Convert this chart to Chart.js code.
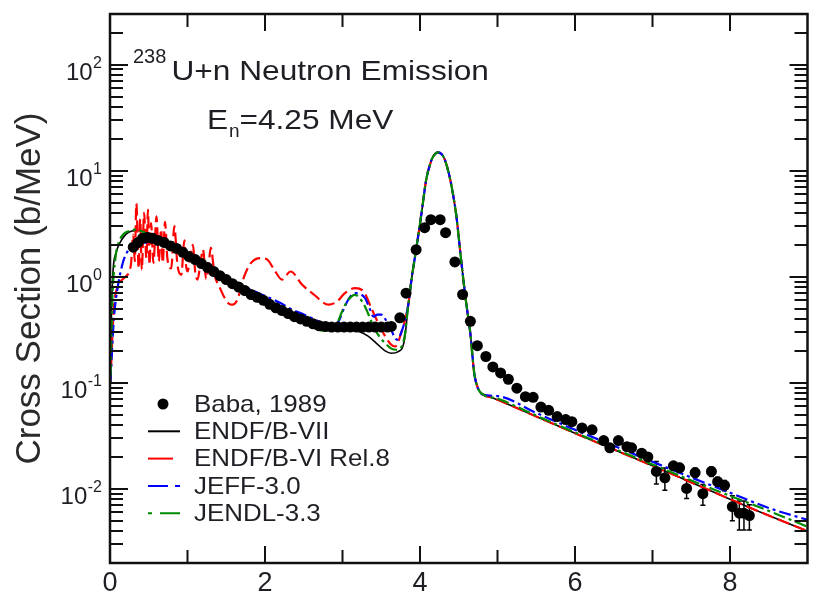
<!DOCTYPE html>
<html><head><meta charset="utf-8">
<script src="https://cdn.jsdelivr.net/npm/chart.js@4.4.1/dist/chart.umd.min.js"></script>
<style>html,body{margin:0;padding:0;overflow:hidden;background:#fff}#wrap{width:813px;height:600px}</style>
</head><body><div id="wrap"><canvas id="c" width="813" height="600"></canvas></div>
<script>
// ---------- axis ticks ----------
const xMajorTicks = [0, 2, 4, 6, 8];
const xMinorTicks = [1, 3, 5, 7];
const yMajorTicks = [0.01, 0.1, 1, 10, 100];
const yTickExponents = ['-2', '-1', '0', '1', '2'];
const yMin = 0.002, yMax = 300;

// ---------- Baba, 1989 measurement ----------
const babaE = [0.30,0.36,0.42,0.48,0.55,0.62,0.70,0.78,0.86,0.94,1.02,1.10,1.18,1.26,1.34,1.42,1.50,1.58,1.66,1.74,1.82,1.90,1.98,2.06,2.14,2.22,2.30,2.38,2.46,2.54,2.62,2.70,2.78,2.86,2.94,3.02,3.10,3.18,3.26,3.34,3.42,3.50,3.58,3.63,3.74,3.82,3.95,4.06,4.14,4.26,4.33,4.45,4.55,4.65,4.74,4.85,4.94,5.04,5.14,5.25,5.36,5.46,5.56,5.66,5.77,5.88,5.96,6.09,6.22,6.37,6.45,6.56,6.67,6.73,6.86,6.94,7.05,7.16,7.27,7.35,7.44,7.55,7.65,7.76,7.84,7.93,8.03,8.12,8.18,8.25];
const babaY = [1.9,2.1,2.3,2.35,2.3,2.2,2.1,1.95,1.85,1.7,1.55,1.45,1.33,1.22,1.12,1.02,0.94,0.86,0.8,0.74,0.68,0.64,0.6,0.55,0.51,0.48,0.45,0.42,0.40,0.38,0.36,0.345,0.34,0.335,0.335,0.335,0.335,0.335,0.335,0.335,0.335,0.335,0.335,0.34,0.41,0.70,1.8,2.9,3.45,3.45,2.6,1.38,0.68,0.38,0.224,0.177,0.141,0.124,0.108,0.089,0.074,0.073,0.059,0.055,0.048,0.045,0.043,0.0375,0.036,0.0285,0.0244,0.0285,0.025,0.0244,0.0217,0.020,0.0146,0.0127,0.0165,0.0158,0.0101,0.0142,0.009,0.0146,0.0117,0.0108,0.0068,0.0059,0.0059,0.0056];
const babaErr = [0,0,0,0,0,0,0,0,0,0,0,0,0,0,0,0,0,0,0,0,0,0,0,0,0,0,0,0,0,0,0,0,0,0,0,0,0,0,0,0,0,0,0,0,0,0,0,0,0,0,0,0,0,0,0,0,0,0,0,0,0,0,0,0,0,0,0,0,0,0,0,0,0,0,0,0,0.0035,0.003,0.0015,0.0015,0.002,0.0015,0.002,0.0015,0.0012,0.0012,0.0018,0.0018,0.0018,0.0015];

// ---------- ENDF/B-VII ----------
const endf7LowE = [0.005,0.02,0.04,0.08,0.13,0.23,0.36,0.49,0.7,0.92,1.1,1.35,1.6,1.92,2.15,2.35,2.55,2.73,2.95,3.21,3.33,3.46,3.55,3.63,3.72,3.80];
const endf7LowY = [0.1,0.5,1.16,1.7,2.1,2.6,2.73,2.6,2.2,1.75,1.45,1.16,0.9,0.61,0.5,0.44,0.38,0.34,0.32,0.305,0.275,0.228,0.2,0.19,0.197,0.255];

// ---------- ENDF/B-VI Rel.8 ----------
const endf6LowE = [0.005,0.05,0.12,0.2,0.27,0.3,0.32,0.34,0.37,0.39,0.41,0.44,0.47,0.49,0.51,0.53,0.56,0.6,0.63,0.66,0.68,0.71,0.74,0.79,0.83,0.87,0.92,0.96,0.98,1.0,1.04,1.07,1.10,1.13,1.17,1.20,1.24,1.27,1.30,1.35,1.41,1.47,1.53,1.58,1.64,1.73,1.82,1.94,2.03,2.12,2.22,2.33,2.48,2.63,2.82,2.93,3.03,3.16,3.27,3.38,3.50,3.63,3.68,3.76];
const endf6LowY = [0.1,0.5,0.85,1.0,1.3,2.5,1.4,4.9,1.2,3.5,1.16,4.0,1.5,4.3,1.3,3.2,1.35,3.7,1.4,2.8,1.35,3.3,1.5,1.2,3.0,1.3,1.04,2.2,1.3,1.12,1.6,2.0,1.1,0.94,1.4,1.8,0.95,1.2,1.88,1.04,0.81,0.65,0.56,0.545,0.6,1.0,1.35,1.5,1.45,1.16,0.94,1.12,0.84,0.68,0.545,0.585,0.70,0.78,0.73,0.49,0.32,0.228,0.22,0.30];

// ---------- JEFF-3.0 ----------
const jeffLowE = [0.005,0.05,0.1,0.17,0.22,0.27,0.32,0.45,0.58,0.75,0.92,1.1,1.35,1.55,1.73,1.92,2.2,2.35,2.5,2.69,2.86,2.95,3.03,3.1,3.16,3.22,3.29,3.35,3.40,3.45,3.50,3.56,3.61,3.66,3.70,3.76];
const jeffLowY = [0.1,0.4,0.8,1.39,1.7,1.95,2.08,2.1,2.15,2.0,1.8,1.5,1.16,0.95,0.81,0.7,0.565,0.49,0.44,0.38,0.32,0.38,0.525,0.65,0.70,0.69,0.63,0.5,0.42,0.44,0.44,0.39,0.34,0.28,0.255,0.30];

// ---------- JENDL-3.3 ----------
const jendlLowE = [0.005,0.03,0.07,0.11,0.17,0.23,0.32,0.4,0.5,0.7,0.92,1.15,1.35,1.65,1.92,2.16,2.35,2.5,2.69,2.8,2.91,3.0,3.06,3.16,3.22,3.29,3.40,3.48,3.55,3.63,3.70,3.80];
const jendlLowY = [0.1,0.6,1.5,2.08,2.5,2.67,2.78,2.7,2.5,2.15,1.7,1.35,1.1,0.75,0.585,0.49,0.42,0.38,0.315,0.31,0.34,0.48,0.585,0.675,0.63,0.525,0.34,0.27,0.237,0.21,0.205,0.27];

// ---------- elastic peak (common to all evaluations) ----------
const peakE = [3.85,3.89,3.95,4.02,4.08,4.13,4.17,4.23,4.28,4.32,4.36,4.40,4.47,4.53,4.59,4.65,4.70,4.75,4.82];
const peakY = [0.55,0.94,1.8,4.0,8.2,11.5,13.6,14.9,14.3,12.7,10.2,7.6,3.7,1.45,0.61,0.29,0.123,0.088,0.077];

// ---------- high-energy tails ----------
const endfTailE = [4.94,5.5,6.0,6.5,7.0,7.5,8.0,8.5,9.0];
const endfTailY = [0.072,0.048,0.0335,0.0235,0.0165,0.0115,0.0080,0.0056,0.0040];
const jeffTailE = [5.0,5.5,6.0,6.5,7.0,7.5,8.0,8.5,9.0];
const jeffTailY = [0.075,0.052,0.036,0.0255,0.018,0.0128,0.0092,0.0066,0.0051];
const jendlTailE = [5.0,5.5,6.0,6.5,7.0,7.5,8.0,8.5,9.0];
const jendlTailY = [0.071,0.049,0.034,0.024,0.017,0.012,0.0086,0.0062,0.0044];

const toPts = (xs, ys) => xs.map((v, i) => ({x: v, y: ys[i]}));
const FONT = '"Liberation Sans", Arial, Helvetica, sans-serif';
const TEXT = '#1e1e24';

const lineDS = (label, xs, ys, color, dash, width, order) => ({
  label, data: toPts(xs, ys), showLine: true, borderColor: color, backgroundColor: color,
  borderDash: dash, borderWidth: width, pointRadius: 0, pointHoverRadius: 0,
  cubicInterpolationMode: 'monotone', order
});

const datasets = [
  {label: 'Baba, 1989', data: toPts(babaE, babaY), showLine: false, pointRadius: 5.5,
   pointBackgroundColor: '#000', pointBorderColor: '#000', pointBorderWidth: 0, order: 0},
  lineDS('ENDF/B-VII', endf7LowE.concat(peakE, endfTailE), endf7LowY.concat(peakY, endfTailY), '#000000', [], 1.6, 4),
  lineDS('ENDF/B-VI Rel.8', endf6LowE.concat(peakE, endfTailE), endf6LowY.concat(peakY, endfTailY), '#ff0000', [12, 5], 2.2, 3),
  lineDS('JEFF-3.0', jeffLowE.concat(peakE, jeffTailE), jeffLowY.concat(peakY, jeffTailY), '#0000ff', [12, 4, 3, 4], 2.2, 2),
  lineDS('JENDL-3.3', jendlLowE.concat(peakE, jendlTailE), jendlLowY.concat(peakY, jendlTailY), '#008a00', [3, 4, 12, 4], 2.2, 1)
];

function stretchText(ctx, txt, x, y, size, sx) {
  ctx.save();
  ctx.font = size + 'px ' + FONT;
  ctx.translate(x, y); ctx.scale(sx, 1);
  ctx.fillText(txt, 0, 0);
  ctx.restore();
  ctx.font = size + 'px ' + FONT;
  return ctx.measureText(txt).width * sx;
}

const errorBars = {
  id: 'errorBars',
  beforeDatasetsDraw(chart) {
    const {ctx, scales: {x, y}} = chart;
    ctx.save(); ctx.strokeStyle = '#000'; ctx.lineWidth = 1.5;
    ctx.beginPath();
    babaE.forEach((e, i) => {
      const err = babaErr[i]; if (!err) return;
      const px = x.getPixelForValue(e);
      const y1 = y.getPixelForValue(babaY[i] - err), y2 = y.getPixelForValue(babaY[i] + err);
      ctx.moveTo(px, y1); ctx.lineTo(px, y2);
      ctx.moveTo(px - 2.5, y1); ctx.lineTo(px + 2.5, y1);
      ctx.moveTo(px - 2.5, y2); ctx.lineTo(px + 2.5, y2);
    });
    ctx.stroke(); ctx.restore();
  }
};

const frameTicks = {
  id: 'frameTicks',
  afterDatasetsDraw(chart) {
    const {ctx, chartArea: a, scales: {x, y}} = chart;
    ctx.save();
    ctx.strokeStyle = '#111'; ctx.lineWidth = 2.5;
    ctx.strokeRect(a.left, a.top, a.right - a.left, a.bottom - a.top);
    ctx.lineWidth = 2;
    ctx.beginPath();
    const xt = (v, len) => { const px = x.getPixelForValue(v);
      ctx.moveTo(px, a.bottom); ctx.lineTo(px, a.bottom - len);
      ctx.moveTo(px, a.top); ctx.lineTo(px, a.top + len); };
    xMajorTicks.forEach(v => xt(v, 17));
    xMinorTicks.forEach(v => xt(v, 13));
    for (let d = -3; d <= 2; d++) for (let m = 1; m <= 9; m++) {
      const v = m * Math.pow(10, d);
      if (v < yMin || v > yMax) continue;
      const len = m === 1 ? 18 : 13;
      const py = Math.round(y.getPixelForValue(v));
      ctx.moveTo(a.left, py); ctx.lineTo(a.left + len, py);
      ctx.moveTo(a.right, py); ctx.lineTo(a.right - len, py);
    }
    ctx.stroke();
    // y tick labels 10^n
    ctx.fillStyle = TEXT; ctx.textBaseline = 'alphabetic'; ctx.textAlign = 'left';
    yMajorTicks.forEach((v, i) => {
      const py = y.getPixelForValue(v);
      ctx.font = '16px ' + FONT;
      const ew = ctx.measureText(yTickExponents[i]).width;
      ctx.font = '24px ' + FONT;
      const bw = ctx.measureText('10').width;
      const right = 102;
      ctx.font = '16px ' + FONT;
      ctx.fillText(yTickExponents[i], right - ew, py + 3);
      ctx.font = '24px ' + FONT;
      ctx.fillText('10', right - ew - bw - 0.5, py + 15);
    });
    ctx.restore();
  },
  afterDraw(chart) {
    const {ctx} = chart;
    ctx.save();
    ctx.fillStyle = TEXT; ctx.textBaseline = 'alphabetic'; ctx.textAlign = 'left';
    // title lines
    ctx.font = '20px ' + FONT; ctx.fillText('238', 133, 63);
    stretchText(ctx, 'U+n Neutron Emission', 171.5, 80, 28, 1.13);
    const ew = stretchText(ctx, 'E', 207, 128.5, 28, 1.13);
    ctx.font = '19px ' + FONT; ctx.fillText('n', 207 + ew + 1, 137);
    stretchText(ctx, '=4.25 MeV', 239.5, 128.5, 28, 1.13);
    // legend
    const order = ['Baba, 1989', 'ENDF/B-VII', 'ENDF/B-VI Rel.8', 'JEFF-3.0', 'JENDL-3.3'];
    order.forEach((lab, i) => {
      const ds = chart.data.datasets.find(d => d.label === lab);
      const cy = 404 + i * 27.3;
      if (!ds.showLine) {
        ctx.beginPath(); ctx.fillStyle = '#000'; ctx.arc(163, cy, 5.5, 0, Math.PI * 2); ctx.fill();
      } else {
        ctx.beginPath(); ctx.strokeStyle = ds.borderColor; ctx.lineWidth = 2;
        ctx.setLineDash(ds.borderDash.length ? (lab === 'ENDF/B-VI Rel.8' ? [25, 8] : (lab === 'JEFF-3.0' ? [20, 7, 5, 7] : [4, 8, 20, 7])) : []);
        ctx.moveTo(148, cy); ctx.lineTo(180, cy); ctx.stroke(); ctx.setLineDash([]);
      }
      ctx.fillStyle = TEXT; ctx.textBaseline = 'middle';
      stretchText(ctx, lab, 194, cy + 1, 24, 1.08);
      ctx.textBaseline = 'alphabetic';
    });
    ctx.restore();
  }
};

new Chart(document.getElementById('c'), {
  type: 'scatter',
  data: {datasets},
  options: {
    responsive: false, animation: false, devicePixelRatio: 1,
    layout: {padding: {top: 14, right: 1, left: 0, bottom: 0}},
    plugins: {legend: {display: false}, tooltip: {enabled: false}},
    scales: {
      x: {
        type: 'linear', min: 0, max: 9,
        grid: {display: false, drawTicks: false}, border: {display: false},
        afterBuildTicks: s => { s.ticks = xMajorTicks.map(v => ({value: v})); },
        afterFit: s => { s.height = 37; },
        ticks: {color: TEXT, font: {family: FONT, size: 27}, padding: 4, maxRotation: 0, autoSkip: false,
                callback: v => String(v)}
      },
      y: {
        type: 'logarithmic', min: yMin, max: yMax,
        grid: {display: false, drawTicks: false}, border: {display: false},
        afterFit: s => { s.width = 110; },
        ticks: {display: false},
        title: {display: true, text: 'Cross Section (b/MeV)', color: '#2a2a2a',
                font: {family: FONT, size: 35}, padding: {top: 9, bottom: 0}}
      }
    }
  },
  plugins: [errorBars, frameTicks]
});
</script></body></html>
